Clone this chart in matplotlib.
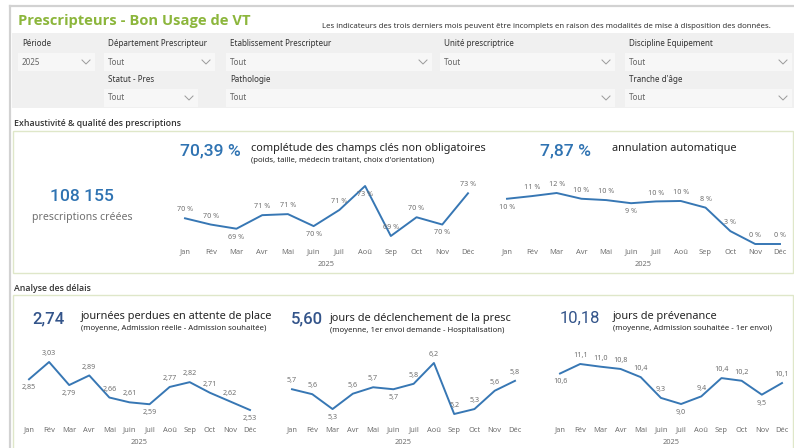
import matplotlib.pyplot as plt
import matplotlib.patches as patches
import matplotlib.transforms as mtransforms
from matplotlib.lines import Line2D

# ---------------- data ----------------
months = ['Jan', 'Fév', 'Mar', 'Avr', 'Mai', 'Juin', 'Juil', 'Aoû', 'Sep', 'Oct', 'Nov', 'Déc']
year = '2025'

nb_prescriptions = '108 155'

completude_kpi = '70,39 %'
completude = [70.3, 69.7, 69.3, 70.6, 70.7, 69.55, 71.1, 73.4, 68.6, 70.4, 69.7, 72.7]

annulation_kpi = '7,87 %'
annulation = [10.4, 11.0, 11.7, 10.4, 10.1, 9.4, 9.8, 9.9, 8.4, 3.1, 0.2, 0.2]

attente_kpi = '2,74'
attente = [2.85, 3.03, 2.79, 2.89, 2.66, 2.61, 2.59, 2.77, 2.82, 2.71, 2.62, 2.53]

declenchement_kpi = '5,60'
declenchement = [5.67, 5.57, 5.27, 5.58, 5.71, 5.67, 5.78, 6.2, 5.17, 5.27, 5.64, 5.84]

prevenance_kpi = '10,18'
prevenance = [10.6, 11.1, 10.96, 10.84, 10.41, 9.32, 9.0, 9.4, 10.36, 10.22, 9.49, 10.1]

# filters: (label, value)
filtres_1 = [('Période', '2025'), ('Département Prescripteur', 'Tout'),
             ('Etablissement Prescripteur', 'Tout'), ('Unité prescriptrice', 'Tout'),
             ('Discipline Equipement', 'Tout')]
filtres_2 = [('Statut - Pres', 'Tout'), ('Pathologie', 'Tout'), ("Tranche d'âge", 'Tout')]

W, H = 794, 448
fig = plt.figure(figsize=(W / 100, H / 100), dpi=100)
fig.patch.set_facecolor('white')

UI = 'Noto Sans'
BOLD = 'Open Sans'
NUM = 'Roboto'
BLUE = '#3777b4'
KPI_BLUE = '#2f73b2'
KPI_DARK = '#33548a'
GREY_TXT = '#707070'
BOX = '#dfe7c9'


def fx(x):
    return x / W


def fy(y):
    return 1 - y / H


def txt(x, y, s, **kw):
    kw.setdefault('family', UI)
    kw.setdefault('va', 'center')
    fig.text(fx(x), fy(y), s, **kw)


def rect(x0, y0, x1, y1, **kw):
    fig.add_artist(patches.Rectangle((fx(x0), fy(y1)), (x1 - x0) / W, (y1 - y0) / H,
                                     transform=fig.transFigure, **kw))


def chevron(x, y):
    fig.add_artist(Line2D([fx(x - 4), fx(x), fx(x + 4)], [fy(y - 2), fy(y + 2), fy(y - 2)],
                          transform=fig.transFigure, color='#9a9a9a', lw=0.7))


# outer frame
fig.add_artist(Line2D([fx(10), fx(794)], [fy(6), fy(6)], transform=fig.transFigure, color='#d2d2d2', lw=1.6))
fig.add_artist(Line2D([fx(10), fx(10)], [fy(6), fy(448)], transform=fig.transFigure, color='#d2d2d2', lw=1.6))

txt(18, 21, 'Prescripteurs - Bon Usage de VT', fontsize=10.6, family=BOLD, fontweight='bold', color='#8cb63c')
txt(322, 26, 'Les indicateurs des trois derniers mois peuvent être incomplets en raison des modalités '
    'de mise à disposition des données.', fontsize=5.6, color='#333333')

# filter panel
rect(12, 33, 794, 108, facecolor='#f0f0f0', edgecolor='none')
row1_x = [(18, 95), (104, 215), (226, 432), (440, 615), (625, 792)]
for (lab, val), (a, b) in zip(filtres_1, row1_x):
    txt(a + 4, 44, lab, fontsize=5.8, color='#333333')
    rect(a, 53, b, 71, facecolor='#f7f7f7', edgecolor='none')
    txt(a + 4, 62, val, fontsize=5.8, color='#666666')
    chevron(b - 9, 62)
row2_x = [(104, 198), (226, 615), (625, 792)]
for (lab, val), (a, b) in zip(filtres_2, row2_x):
    txt(a + 4, 80, lab, fontsize=5.8, color='#333333')
    rect(a, 89, b, 107, facecolor='#f7f7f7', edgecolor='none')
    txt(a + 4, 98, val, fontsize=5.8, color='#666666')
    chevron(b - 9, 98)

# sections
txt(14, 124, 'Exhaustivité & qualité des prescriptions', fontsize=6.3, family=BOLD, fontweight='semibold', color='#333333')
rect(13, 131, 793, 273, facecolor='none', edgecolor=BOX, lw=1.0)
txt(14, 288, 'Analyse des délais', fontsize=6.3, family=BOLD, fontweight='semibold', color='#333333')
rect(13, 295, 793, 452, facecolor='none', edgecolor=BOX, lw=1.0)

# KPI texts
txt(82, 196, nb_prescriptions, fontsize=12.6, family=NUM, fontweight='medium', color=KPI_BLUE, ha='center')
txt(82, 217, 'prescriptions créées', fontsize=7.6, color=GREY_TXT, ha='center')

txt(180, 151, completude_kpi, fontsize=12.6, family=NUM, fontweight='medium', color=KPI_BLUE)
txt(251, 149, 'complétude des champs clés non obligatoires', fontsize=7.9, color='#252525')
txt(251, 161, "(poids, taille, médecin traitant, choix d'orientation)", fontsize=5.6, color='#252525')

txt(540, 151, annulation_kpi, fontsize=12.6, family=NUM, fontweight='medium', color=KPI_BLUE)
txt(612, 149, 'annulation automatique', fontsize=7.9, color='#252525')

txt(32, 319, attente_kpi, fontsize=12, family=NUM, fontweight='medium', color=KPI_DARK)
txt(81, 316, 'journées perdues en attente de place', fontsize=7.9, color='#252525')
txt(81, 328, '(moyenne, Admission réelle - Admission souhaitée)', fontsize=5.6, color='#252525')

txt(291, 319, declenchement_kpi, fontsize=12, family=NUM, fontweight='medium', color=KPI_DARK)
txt(330, 318, 'jours de déclenchement de la presc', fontsize=7.9, color='#252525')
txt(330, 330, '(moyenne, 1er envoi demande - Hospitalisation)', fontsize=5.6, color='#252525')

txt(560, 318, prevenance_kpi, fontsize=12, family=NUM, fontweight='normal', color=KPI_DARK)
txt(613, 316, 'jours de prévenance', fontsize=7.9, color='#252525')
txt(613, 328, '(moyenne, Admission souhaitée - 1er envoi)', fontsize=5.6, color='#252525')


def line_chart(vals, fmt, places, x0, x1, ytop, ybot, ylab):
    ax = fig.add_axes([fx(x0), fy(ybot), (x1 - x0) / W, (ybot - ytop) / H])
    ax.set_xlim(0, len(vals) - 1)
    ax.set_ylim(min(vals), max(vals))
    ax.axis('off')
    ax.plot(range(len(vals)), vals, color=BLUE, lw=1.4, clip_on=False, solid_joinstyle='round')
    for i, (v, p) in enumerate(zip(vals, places)):
        off = 6 if p == 'a' else -6
        ax.annotate(fmt(v), (i, v), xytext=(0, off), textcoords='offset points',
                    ha='center', va='center', fontsize=5.2, family=UI, color=GREY_TXT)
    tr = mtransforms.blended_transform_factory(ax.transData, fig.transFigure)
    for i, m in enumerate(months):
        ax.text(i, fy(ylab), m, transform=tr, ha='center', va='center', fontsize=5.4,
                family=UI, color=GREY_TXT)
    ax.text((len(vals) - 1) / 2, fy(ylab + 12), year, transform=tr, ha='center', va='center',
            fontsize=5.4, family=UI, color=GREY_TXT)


def pct(v):
    return f'{round(v)} %'


def dec1(v):
    return f'{v:.1f}'.replace('.', ',')


def dec2(v):
    return f'{v:.2f}'.replace('.', ',')


line_chart(completude, pct, ['a', 'a', 'b', 'a', 'a', 'b', 'a', 'b', 'a', 'a', 'b', 'a'],
           185, 468, 186, 236, 252)
line_chart(annulation, pct, ['b', 'a', 'a', 'a', 'a', 'b', 'a', 'a', 'a', 'a', 'a', 'a'],
           507, 780, 193, 244, 252)
line_chart(attente, dec2, ['b', 'a', 'b', 'a', 'a', 'a', 'b', 'a', 'a', 'a', 'a', 'b'],
           29, 250, 362, 410, 430)
line_chart(declenchement, dec1, ['a', 'a', 'b', 'a', 'a', 'b', 'a', 'a', 'a', 'a', 'a', 'a'],
           292, 515, 363, 414, 430)
line_chart(prevenance, dec1, ['b', 'a', 'a', 'a', 'a', 'a', 'b', 'a', 'a', 'a', 'b', 'a'],
           560, 782, 364, 404, 430)

fig.savefig('out.png', dpi=100)
